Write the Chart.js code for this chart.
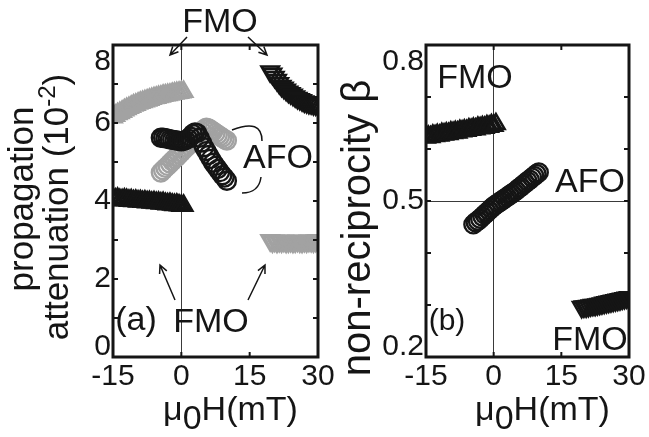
<!DOCTYPE html>
<html>
<head>
<meta charset="utf-8">
<script src="https://cdn.jsdelivr.net/npm/chart.js@4.4.0/dist/chart.umd.min.js"></script>
<style>
  html, body { margin: 0; padding: 0; background: #fff; }
  #wrap { position: relative; width: 649px; height: 437px; }
  #wrap canvas { position: absolute; left: 0; top: 0; }
</style>
</head>
<body>
<div id="wrap">
  <canvas id="chartA" width="649" height="437"></canvas>
  <canvas id="chartB" width="649" height="437"></canvas>
</div>
<script>
// Field values (mT)
const fieldLow = [-15, -14.5, -14, -13.5, -13, -12.5, -12, -11.5, -11, -10.5, -10, -9.5, -9, -8.5, -8, -7.5,
                  -7, -6.5, -6, -5.5, -5, -4.5, -4, -3.5, -3, -2.5, -2, -1.5, -1, -0.5, 0, 0.5];
const fieldHigh = [19.5, 20, 20.5, 21, 21.5, 22, 22.5, 23, 23.5, 24, 24.5, 25, 25.5, 26, 26.5, 27,
                   27.5, 28, 28.5, 29, 29.5, 30];
const fieldAfo = [-4.5, -4, -3.5, -3, -2.5, -2, -1.5, -1, -0.5, 0, 0.5, 1, 1.5, 2, 2.5, 3,
                  3.5, 4, 4.5, 5, 5.5, 6, 6.5, 7, 7.5, 8, 8.5, 9, 9.5, 10];

// (a) propagation attenuation (10^-2)
const attenFmoLowBlack = [4.05, 4.04, 4.06, 4.03, 4.02, 4.04, 4.03, 4.01, 4.02, 4.0, 4.01, 3.99, 4.0, 3.98, 3.99, 3.97,
                          3.98, 3.96, 3.97, 3.95, 3.96, 3.94, 3.95, 3.93, 3.92, 3.93, 3.91, 3.9, 3.91, 3.89, 3.88, 3.88];
const attenFmoLowGray = [6.15, 6.19, 6.23, 6.26, 6.29, 6.33, 6.36, 6.39, 6.42, 6.45, 6.47, 6.5, 6.52, 6.54, 6.56, 6.58,
                         6.6, 6.62, 6.64, 6.65, 6.67, 6.68, 6.7, 6.71, 6.72, 6.73, 6.75, 6.76, 6.77, 6.78, 6.79, 6.8];
const attenFmoHighBlack = [7.32, 7.26, 7.18, 7.1, 7.02, 6.95, 6.9, 6.85, 6.8, 6.76, 6.72, 6.68, 6.64, 6.61, 6.58, 6.55,
                           6.53, 6.51, 6.5, 6.48, 6.47, 6.46];
const attenFmoHighGray = [2.99, 2.96, 2.98, 2.95, 2.97, 2.96, 2.98, 2.95, 2.96, 2.97, 2.95, 2.96, 2.98, 2.96, 2.95, 2.97,
                          2.96, 2.98, 2.97, 2.96, 2.98, 2.99];
const attenAfoBlack = [5.62, 5.62, 5.61, 5.6, 5.58, 5.57, 5.56, 5.55, 5.54, 5.53, 5.54, 5.56, 5.6, 5.65, 5.72, 5.76,
                       5.74, 5.62, 5.5, 5.38, 5.28, 5.18, 5.08, 4.98, 4.9, 4.82, 4.74, 4.66, 4.6, 4.52];
const attenAfoGray = [4.73, 4.79, 4.85, 4.9, 4.96, 5.02, 5.08, 5.13, 5.19, 5.25, 5.31, 5.37, 5.42, 5.48, 5.54, 5.6,
                      5.66, 5.72, 5.78, 5.84, 5.88, 5.86, 5.82, 5.78, 5.74, 5.7, 5.66, 5.62, 5.58, 5.55];

// (b) non-reciprocity beta
const betaFmoLow = [0.622, 0.624, 0.623, 0.626, 0.625, 0.627, 0.626, 0.629, 0.628, 0.63, 0.629, 0.632, 0.631, 0.633, 0.632, 0.635,
                    0.634, 0.636, 0.635, 0.638, 0.637, 0.639, 0.638, 0.641, 0.64, 0.642, 0.641, 0.644, 0.643, 0.646, 0.645, 0.648];
const betaFmoHigh = [0.296, 0.297, 0.297, 0.298, 0.299, 0.3, 0.3, 0.301, 0.302, 0.303, 0.304, 0.305, 0.306, 0.307, 0.308, 0.309,
                     0.31, 0.311, 0.312, 0.313, 0.314, 0.315];
const betaAfo = [0.455, 0.459, 0.462, 0.466, 0.47, 0.474, 0.478, 0.482, 0.486, 0.49, 0.493, 0.496, 0.499, 0.502, 0.505, 0.508,
                 0.511, 0.514, 0.517, 0.52, 0.524, 0.527, 0.531, 0.534, 0.538, 0.541, 0.545, 0.548, 0.552, 0.555];

// Tick labels
const xTickLabels = [-15, 0, 15, 30];
const yTickLabelsA = [0, 2, 4, 6, 8];
const yTickLabelsB = [0.2, 0.5, 0.8];

const FF = "'Liberation Sans', Arial, sans-serif";
const BLACK = '#151515';
const GRAY = '#a2a2a2';

Chart.defaults.font.family = FF;
Chart.defaults.color = BLACK;

const pts = (xs, ys) => xs.map((x, i) => ({x: x, y: ys[i]}));

function series(xs, ys, color, style, radius, rot) {
  return {
    data: pts(xs, ys),
    showLine: false,
    pointStyle: style,
    pointRadius: radius,
    pointRotation: rot || 0,
    pointBorderColor: color,
    pointBackgroundColor: 'transparent',
    pointBorderWidth: style === 'circle' ? 2.4 : 2.6
  };
}

// helpers for text and arrows
function txt(ctx, s, x, y, size, align) {
  ctx.font = size + 'px ' + FF;
  ctx.textAlign = align || 'center';
  ctx.textBaseline = 'alphabetic';
  ctx.fillStyle = BLACK;
  ctx.fillText(s, x, y);
}

function arrow(ctx, x1, y1, x2, y2) {
  const ang = Math.atan2(y2 - y1, x2 - x1), h = 9;
  ctx.beginPath();
  ctx.moveTo(x1, y1);
  ctx.lineTo(x2, y2);
  ctx.moveTo(x2 - h * Math.cos(ang - 0.45), y2 - h * Math.sin(ang - 0.45));
  ctx.lineTo(x2, y2);
  ctx.lineTo(x2 - h * Math.cos(ang + 0.45), y2 - h * Math.sin(ang + 0.45));
  ctx.stroke();
}

// x title with the lowered 0
function xTitle(ctx, cx, base) {
  ctx.font = '34px ' + FF;
  const w1 = ctx.measureText('\u03bc').width;
  const w2 = ctx.measureText('0').width;
  const w3 = ctx.measureText('H(mT)').width;
  let x = cx - (w1 + w2 + w3) / 2;
  txt(ctx, '\u03bc', x, base, 34, 'left');
  txt(ctx, '0', x + w1, base + 9, 34, 'left');
  txt(ctx, 'H(mT)', x + w1 + w2, base, 34, 'left');
}

// frame, inward ticks, y labels and notes
function framePlugin(yLabels, fmt, extra) {
  return {
    id: 'frame',
    afterDraw(chart) {
      const ctx = chart.ctx;
      const a = chart.chartArea;
      const xs = chart.scales.x, ys = chart.scales.y;
      ctx.save();
      ctx.strokeStyle = BLACK;
      ctx.lineWidth = 2;
      ctx.beginPath();
      xs.ticks.forEach(t => {
        if (t.value <= xs.min || t.value >= xs.max) return;
        const px = xs.getPixelForValue(t.value);
        ctx.moveTo(px, a.bottom); ctx.lineTo(px, a.bottom - 5);
        ctx.moveTo(px, a.top); ctx.lineTo(px, a.top + 5);
      });
      ys.ticks.forEach(t => {
        if (t.value <= ys.min + 1e-9 || t.value >= ys.max - 1e-9) return;
        const py = ys.getPixelForValue(t.value);
        ctx.moveTo(a.left, py); ctx.lineTo(a.left + 5, py);
        ctx.moveTo(a.right, py); ctx.lineTo(a.right - 5, py);
      });
      ctx.stroke();
      ctx.lineWidth = 3;
      ctx.strokeRect(a.left, a.top, a.right - a.left, a.bottom - a.top);

      // y tick labels, end ones pulled inside like the original
      ctx.font = '30px ' + FF;
      ctx.textAlign = 'right';
      ctx.textBaseline = 'middle';
      ctx.fillStyle = BLACK;
      yLabels.forEach(v => {
        let py = ys.getPixelForValue(v);
        py = Math.max(a.top + 17, Math.min(a.bottom - 10, py));
        ctx.fillText(fmt(v), a.left - 2, py);
      });

      ctx.lineWidth = 1.5;
      xTitle(ctx, (a.left + a.right) / 2 + 15, 420);
      extra(ctx, a);
      ctx.restore();
    }
  };
}

function baseOptions(padLeft, padRight) {
  return {
    responsive: false,
    animation: false,
    events: [],
    devicePixelRatio: 1,
    layout: { padding: { left: padLeft, right: padRight, top: 45, bottom: 0 } },
    plugins: { legend: { display: false }, tooltip: { enabled: false } },
    scales: {
      x: {
        type: 'linear', min: -15, max: 30,
        afterBuildTicks: s => { s.ticks = xTickLabels.map(v => ({value: v})); },
        ticks: { font: { size: 30 }, color: BLACK, padding: 2, maxRotation: 0, autoSkip: false,
                 callback: v => String(v) },
        grid: { drawTicks: false, lineWidth: 1,
                color: c => (c.tick && c.tick.value === 0) ? '#3a3a3a' : 'rgba(0,0,0,0)' },
        border: { display: false },
        afterFit: s => { s.height = 80; }
      },
      y: {
        type: 'linear',
        ticks: { display: false },
        border: { display: false },
        afterFit: s => { s.width = 60; }
      }
    }
  };
}

// (a) attenuation
const optA = baseOptions(53, 331);
optA.scales.y.min = 0;
optA.scales.y.max = 8;
optA.scales.y.ticks.stepSize = 1;
optA.scales.y.grid = { display: false };

new Chart(document.getElementById('chartA'), {
  type: 'scatter',
  data: {
    datasets: [
      series(fieldAfo, attenAfoBlack, BLACK, 'circle', 9),
      series(fieldLow, attenFmoLowBlack, BLACK, 'triangle', 10),
      series(fieldHigh, attenFmoHighBlack, BLACK, 'triangle', 10, 180),
      series(fieldAfo, attenAfoGray, GRAY, 'circle', 9),
      series(fieldLow, attenFmoLowGray, GRAY, 'triangle', 10),
      series(fieldHigh, attenFmoHighGray, GRAY, 'triangle', 10, 180)
    ]
  },
  options: optA,
  plugins: [framePlugin(yTickLabelsA, v => String(v), (ctx, a) => {
    // y title, two lines
    ctx.save();
    ctx.translate(33, 199);
    ctx.rotate(-Math.PI / 2);
    txt(ctx, 'propagation', 0, 0, 35);
    ctx.restore();

    ctx.save();
    ctx.translate(68, 207);
    ctx.rotate(-Math.PI / 2);
    ctx.font = '35px ' + FF;
    const w1 = ctx.measureText('attenuation (10').width;
    const w3 = ctx.measureText(')').width;
    ctx.font = '24px ' + FF;
    const w2 = ctx.measureText('-2').width;
    const u = -(w1 + w2 + w3) / 2;
    txt(ctx, 'attenuation (10', u, 0, 35, 'left');
    txt(ctx, '-2', u + w1, -13, 24, 'left');
    txt(ctx, ')', u + w1 + w2, 0, 35, 'left');
    ctx.restore();

    // notes
    txt(ctx, 'FMO', 220, 32, 34);
    arrow(ctx, 187, 37, 170, 55);
    arrow(ctx, 248, 37, 267, 55);
    txt(ctx, 'AFO', 278, 168, 34);
    ctx.beginPath();
    ctx.moveTo(232, 130);
    ctx.quadraticCurveTo(262, 118, 262, 141);
    ctx.moveTo(242, 193);
    ctx.quadraticCurveTo(259, 193, 261, 177);
    ctx.stroke();
    txt(ctx, '(a)', 136, 330, 34);
    txt(ctx, 'FMO', 211, 332, 34);
    arrow(ctx, 175, 300, 160, 265);
    arrow(ctx, 248, 300, 265, 265);
  })]
});

// (b) non-reciprocity
const optB = baseOptions(366, 20);
optB.scales.y.min = 0.2;
optB.scales.y.max = 0.8;
optB.scales.y.ticks.stepSize = 0.1;
optB.scales.y.grid = {
  drawTicks: false, lineWidth: 1,
  color: c => (c.tick && Math.abs(c.tick.value - 0.5) < 1e-6) ? '#3a3a3a' : 'rgba(0,0,0,0)'
};

new Chart(document.getElementById('chartB'), {
  type: 'scatter',
  data: {
    datasets: [
      series(fieldAfo, betaAfo, BLACK, 'circle', 9),
      series(fieldLow, betaFmoLow, BLACK, 'triangle', 10),
      series(fieldHigh, betaFmoHigh, BLACK, 'triangle', 10, 180)
    ]
  },
  options: optB,
  plugins: [framePlugin(yTickLabelsB, v => v.toFixed(1), (ctx, a) => {
    ctx.save();
    ctx.translate(370, 228);
    ctx.rotate(-Math.PI / 2);
    txt(ctx, 'non-reciprocity \u03b2', 0, 0, 40);
    ctx.restore();

    txt(ctx, 'FMO', 475, 88, 34);
    txt(ctx, 'AFO', 590, 192, 34);
    txt(ctx, '(b)', 447, 330, 30);
    txt(ctx, 'FMO', 590, 350, 34);
  })]
});
</script>
</body>
</html>
